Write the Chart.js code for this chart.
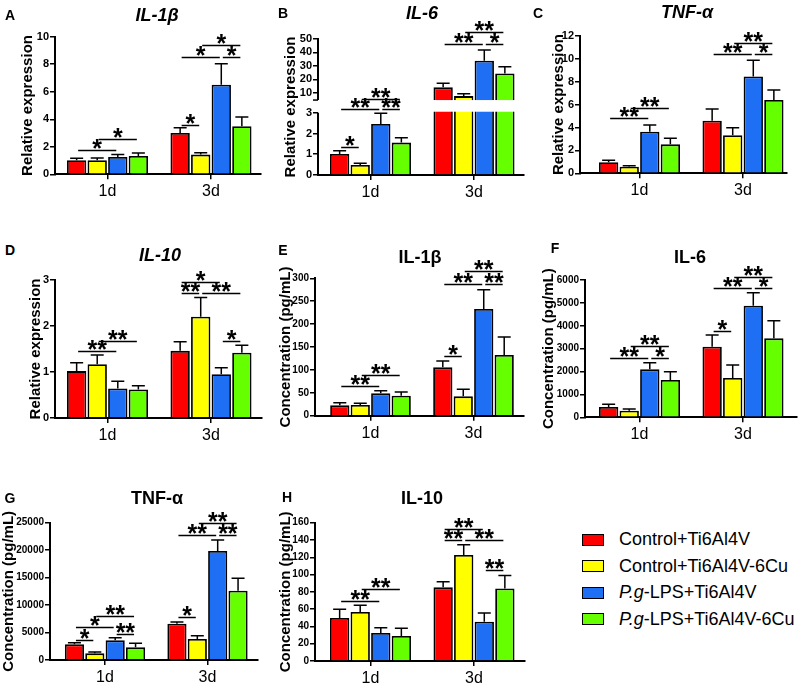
<!DOCTYPE html>
<html>
<head>
<meta charset="utf-8">
<script src="https://cdn.jsdelivr.net/npm/chart.js@4.4.1/dist/chart.umd.min.js"></script>
<style>
  body { margin: 0; background: #fff; width: 800px; height: 689px; position: relative; overflow: hidden;
         font-family: "Liberation Sans", Arial, sans-serif; color: #000; }
  canvas { position: absolute; }
  .lbl { position: absolute; transform: translate(-50%, -50%); font-weight: bold; white-space: nowrap; line-height: 1; }
  .letter { font-size: 14px; }
  .title { font-size: 18px; }
  .leg { position: absolute; left: 582px; height: 20px; white-space: nowrap; font-size: 18px; line-height: 20px; }
  .leg span.box { position: absolute; left: 0; top: 3.5px; width: 20px; height: 10px; border: 1.5px solid #000; }
  .leg span.txt { position: absolute; left: 37px; top: -1px; }
</style>
</head>
<body>
<script>
const days = ['1d', '3d'];
const groups = ['Control+Ti6Al4V', 'Control+Ti6Al4V-6Cu', 'P.g-LPS+Ti6Al4V', 'P.g-LPS+Ti6Al4V-6Cu'];
const colors = ['#ff0000', '#ffff00', '#1f6ff5', '#66ff00'];

// each row is one group: [1d, 3d]; brackets are [day, group a, group b, height, stars]

// A  IL-1β relative expression
const il1bRel = [[1.02, 3.0], [1.02, 1.43], [1.26, 6.51], [1.33, 3.49]];
const il1bRelErr = [[0.14, 0.39], [0.17, 0.14], [0.17, 1.53], [0.22, 0.67]];
const il1bRelSig = [[0, 0, 2, 1.77, '*'], [0, 1, 3, 2.57, '*'], [1, 0, 1, 3.61, '*'], [1, 0, 2, 8.5, '*'], [1, 2, 3, 8.5, '*'], [1, 1, 3, 9.39, '*']];
const il1bRelTicks = [0, 2, 4, 6, 8, 10];

// B  IL-6 relative expression (broken axis)
const il6Rel = [[1.01, 14.0], [0.48, 7.5], [2.46, 33.8], [1.56, 24.3]];
const il6RelErr = [[0.16, 3.0], [0.08, 1.8], [0.51, 8.0], [0.24, 5.0]];
const il6RelSig = [[0, 0, 1, 1.36, '*'], [0, 0, 2, 3.48, '**'], [0, 2, 3, 3.48, '**'], [0, 1, 3, 5.6, '**'], [1, 0, 2, 46, '**'], [1, 2, 3, 46, '*'], [1, 1, 3, 55, '**']];
const il6RelTicks = [0, 1, 2, 3, 10, 20, 30, 40, 50];

// C  TNF-α relative expression
const tnfRel = [[0.96, 4.6], [0.58, 3.32], [3.64, 8.47], [2.53, 6.4]];
const tnfRelErr = [[0.17, 1.02], [0.09, 0.67], [0.58, 1.4], [0.53, 0.88]];
const tnfRelSig = [[0, 0, 2, 4.8, '**'], [0, 1, 3, 5.73, '**'], [1, 0, 2, 10.39, '**'], [1, 2, 3, 10.39, '*'], [1, 1, 3, 11.41, '**']];
const tnfRelTicks = [0, 2, 4, 6, 8, 10, 12];

// D  IL-10 relative expression
const il10Rel = [[1.02, 1.46], [1.17, 2.2], [0.64, 0.95], [0.62, 1.42]];
const il10RelErr = [[0.18, 0.2], [0.2, 0.42], [0.16, 0.14], [0.08, 0.16]];
const il10RelSig = [[0, 0, 2, 1.45, '**'], [0, 1, 3, 1.68, '**'], [1, 0, 1, 2.72, '**'], [1, 1, 3, 2.72, '**'], [1, 0, 2, 2.96, '*'], [1, 2, 3, 1.68, '*']];
const il10RelTicks = [0, 1, 2, 3];

// E  IL-1β concentration (pg/mL)
const il1bConc = [[22.6, 105.6], [23.3, 42.2], [48.8, 233], [43.7, 132.6]];
const il1bConcErr = [[5.8, 13.8], [3.7, 15.3], [5.8, 42], [8, 39.3]];
const il1bConcSig = [[0, 0, 2, 64, '**'], [0, 1, 3, 89.6, '**'], [1, 0, 1, 131, '*'], [1, 0, 2, 287.7, '**'], [1, 2, 3, 287.7, '**'], [1, 1, 3, 315.4, '**']];
const il1bConcTicks = [0, 50, 100, 150, 200, 250, 300];

// F  IL-6 concentration (pg/mL)
const il6Conc = [[451, 3086], [291, 1718], [2096, 4876], [1630, 3450]];
const il6ConcErr = [[117, 509], [73, 567], [291, 568], [364, 771]];
const il6ConcSig = [[0, 0, 2, 2606, '**'], [0, 2, 3, 2606, '*'], [0, 1, 3, 3130, '**'], [1, 0, 1, 3770, '*'], [1, 0, 2, 5633, '**'], [1, 2, 3, 5633, '*'], [1, 1, 3, 6114, '**']];
const il6ConcTicks = [0, 1000, 2000, 3000, 4000, 5000, 6000];

// G  TNF-α concentration (pg/mL)
const tnfConc = [[2852, 6614], [1214, 3823], [3580, 19842], [2306, 12621]];
const tnfConcErr = [[303, 303], [242, 607], [485, 2003], [728, 2245]];
const tnfConcSig = [[0, 0, 1, 3640, '*'], [0, 0, 2, 5947, '*'], [0, 2, 3, 4733, '**'], [0, 1, 3, 8010, '**'], [1, 0, 1, 7767, '*'], [1, 0, 2, 22755, '**'], [1, 2, 3, 22755, '**'], [1, 1, 3, 24879, '**']];
const tnfConcTicks = [0, 5000, 10000, 15000, 20000, 25000];

// H  IL-10 concentration (pg/mL)
const il10Conc = [[49.7, 85.2], [56.7, 122.6], [32.4, 45.5], [28.9, 84]];
const il10ConcErr = [[10.3, 6.5], [7.7, 11.9], [6.2, 10], [8.9, 15]];
const il10ConcSig = [[0, 0, 2, 69, '**'], [0, 1, 3, 83.3, '**'], [1, 0, 1, 140, '**'], [1, 1, 3, 140, '**'], [1, 0, 2, 152.7, '**'], [1, 2, 3, 105.2, '**']];
const il10ConcTicks = [0, 20, 40, 60, 80, 100, 120, 140, 160];

// broken axis of B: 0-3 below the break, 4.54-50 squeezed above it
const brk = [3, 4.54];
function breakScale(v) {
  if (v <= brk[0]) return v;
  if (v <= brk[1]) return brk[0] + (v - brk[0]) * 0.61 / (brk[1] - brk[0]);
  return brk[0] + 0.61 + (v - brk[1]) * 0.0647;
}
const same = v => v;

const REL = 'Relative expression', CONC = 'Concentration (pg/mL)';
const panels = [
  { letter: 'A', title: 'IL-1β', italic: true, yTitle: REL, vals: il1bRel, errs: il1bRelErr, sig: il1bRelSig, ticks: il1bRelTicks, tf: same, tickSize: 11,
    box: { letterAt: [10, 15], titleAt: [157, 15], yTitleX: 28, axisX: 55, top: 36.7, bottom: 174.3, right: 261, c: [107.5, 211], rows: [0, 210] } },
  { letter: 'B', title: 'IL-6', italic: true, yTitle: REL, vals: il6Rel, errs: il6RelErr, sig: il6RelSig, ticks: il6RelTicks, tf: breakScale, broken: true, tickSize: 11,
    box: { letterAt: [283, 13], titleAt: [422, 13], yTitleX: 291, axisX: 318, top: 39, bottom: 175, right: 524, c: [370.5, 474], rows: [0, 210] } },
  { letter: 'C', title: 'TNF-α', italic: true, yTitle: REL, vals: tnfRel, errs: tnfRelErr, sig: tnfRelSig, ticks: tnfRelTicks, tf: same, tickSize: 11,
    box: { letterAt: [538, 13], titleAt: [687, 12], yTitleX: 559, axisX: 580, top: 36, bottom: 173.3, right: 787, c: [639.5, 743], rows: [0, 210] } },
  { letter: 'D', title: 'IL-10', italic: true, yTitle: REL, vals: il10Rel, errs: il10RelErr, sig: il10RelSig, ticks: il10RelTicks, tf: same, tickSize: 11,
    box: { letterAt: [10, 250], titleAt: [160, 255], yTitleX: 36, axisX: 55, top: 280, bottom: 418, right: 262, c: [107.5, 211], rows: [225, 455] } },
  { letter: 'E', title: 'IL-1β', italic: false, yTitle: CONC, vals: il1bConc, errs: il1bConcErr, sig: il1bConcSig, ticks: il1bConcTicks, tf: same, tickSize: 10,
    box: { letterAt: [283, 250], titleAt: [420, 257], yTitleX: 286, axisX: 315, top: 278.3, bottom: 415.7, right: 524, c: [370.5, 473.5], rows: [225, 455] } },
  { letter: 'F', title: 'IL-6', italic: false, yTitle: CONC, vals: il6Conc, errs: il6ConcErr, sig: il6ConcSig, ticks: il6ConcTicks, tf: same, tickSize: 10,
    box: { letterAt: [555, 248], titleAt: [690, 257], yTitleX: 549, axisX: 585, top: 280, bottom: 417.3, right: 797, c: [639.5, 743], rows: [225, 455] } },
  { letter: 'G', title: 'TNF-α', italic: false, yTitle: CONC, vals: tnfConc, errs: tnfConcErr, sig: tnfConcSig, ticks: tnfConcTicks, tf: same, tickSize: 10,
    box: { letterAt: [10, 498], titleAt: [157, 498], yTitleX: 9, axisX: 50, top: 522.7, bottom: 660, right: 258, c: [105, 207.5], rows: [460, 689] } },
  { letter: 'H', title: 'IL-10', italic: false, yTitle: CONC, vals: il10Conc, errs: il10ConcErr, sig: il10ConcSig, ticks: il10ConcTicks, tf: same, tickSize: 10,
    box: { letterAt: [287, 497], titleAt: [422, 498], yTitleX: 286, axisX: 315, top: 522.7, bottom: 661, right: 525, c: [370.5, 474], rows: [460, 689] } }
];

const FONT = '"Liberation Sans", Arial, sans-serif';
const X_HEIGHT = 26;

// error bars, significance brackets and the broken axis of B
const marks = {
  id: 'marks',
  afterDatasetsDraw(chart, args, opts) {
    const p = opts.panel;
    const ctx = chart.ctx, y = chart.scales.y, area = chart.chartArea;
    ctx.save();
    ctx.strokeStyle = '#000';
    if (p.broken) {
      const yLo = y.getPixelForValue(p.tf(brk[0]));
      const yHi = y.getPixelForValue(p.tf(brk[1]));
      ctx.fillStyle = '#fff';
      ctx.fillRect(area.left + 1, yHi, area.right - area.left, yLo - yHi - 1);
      ctx.lineWidth = 2;
      ctx.beginPath();
      ctx.moveTo(area.left, area.bottom + 1); ctx.lineTo(area.left, yLo);
      ctx.moveTo(area.left, yHi); ctx.lineTo(area.left, area.top - 1);
      ctx.stroke();
      ctx.lineWidth = 1.5;
      ctx.beginPath();
      ctx.moveTo(area.left - 5, yHi); ctx.lineTo(area.left, yHi);
      ctx.stroke();
    }
    ctx.lineWidth = 1.5;
    p.vals.forEach((row, i) => {
      const meta = chart.getDatasetMeta(i);
      row.forEach((v, j) => {
        const bar = meta.data[j];
        const yt = y.getPixelForValue(p.tf(v + p.errs[i][j]));
        ctx.beginPath();
        ctx.moveTo(bar.x, bar.y);
        ctx.lineTo(bar.x, yt);
        ctx.moveTo(bar.x - 6.5, yt);
        ctx.lineTo(bar.x + 6.5, yt);
        ctx.stroke();
      });
    });
    ctx.fillStyle = '#000';
    ctx.font = 'bold 25px ' + FONT;
    ctx.textAlign = 'center';
    ctx.textBaseline = 'alphabetic';
    p.sig.forEach(([d, a, b, h, s]) => {
      const x1 = chart.getDatasetMeta(a).data[d].x + 1.5;
      const x2 = chart.getDatasetMeta(b).data[d].x - 1.5;
      const yy = Math.round(y.getPixelForValue(p.tf(h))) + 0.5;
      ctx.beginPath();
      ctx.moveTo(x1, yy);
      ctx.lineTo(x2, yy);
      ctx.stroke();
      ctx.fillText(s, (x1 + x2) / 2, yy + 6);
    });
    ctx.restore();
  }
};

function addLabel(cls, text, at, italic) {
  const el = document.createElement('div');
  el.className = 'lbl ' + cls;
  el.textContent = text;
  el.style.left = at[0] + 'px';
  el.style.top = at[1] + 'px';
  if (italic) el.style.fontStyle = 'italic';
  document.body.appendChild(el);
}

panels.forEach(p => {
  const b = p.box;
  const cl = b.yTitleX - 13;
  const ct = b.rows[0];
  const cw = b.right - cl + 14;
  const ch = b.rows[1] - b.rows[0];
  const unit = b.c[1] - b.c[0];

  const canvas = document.createElement('canvas');
  canvas.width = cw;
  canvas.height = ch;
  canvas.style.left = cl + 'px';
  canvas.style.top = ct + 'px';
  document.body.appendChild(canvas);

  addLabel('letter', p.letter, b.letterAt, false);
  addLabel('title', p.title, b.titleAt, p.italic);

  new Chart(canvas, {
    type: 'bar',
    data: {
      datasets: groups.map((g, i) => ({
        label: g,
        data: days.map((d, j) => ({ x: j, y: p.tf(p.vals[i][j]) })),
        backgroundColor: colors[i],
        borderColor: '#000',
        borderWidth: 1.8,
        barPercentage: 0.94,
        categoryPercentage: 0.795
      }))
    },
    options: {
      responsive: false,
      animation: false,
      devicePixelRatio: 1,
      layout: {
        padding: {
          left: 0,
          top: b.top - ct,
          right: cw - (b.right - cl),
          bottom: ch - (b.bottom - ct) - X_HEIGHT
        }
      },
      plugins: {
        legend: { display: false },
        tooltip: { enabled: false },
        marks: { panel: p }
      },
      scales: {
        x: {
          type: 'linear',
          offset: false,
          min: (b.axisX - b.c[0]) / unit,
          max: (b.right - b.c[0]) / unit,
          afterBuildTicks: s => { s.ticks = days.map((d, j) => ({ value: j })); },
          afterFit: s => { s.height = X_HEIGHT; },
          border: { display: true, color: '#000', width: 2 },
          grid: { display: true, offset: false, drawOnChartArea: false, drawTicks: true, tickLength: 5, color: '#000', lineWidth: 1.5 },
          ticks: {
            autoSkip: false,
            maxRotation: 0,
            padding: 3,
            color: '#000',
            font: { family: FONT, size: 16 },
            callback: (v, i) => days[i]
          }
        },
        y: {
          min: 0,
          max: p.tf(p.ticks[p.ticks.length - 1]),
          afterBuildTicks: s => { s.ticks = p.ticks.map(v => ({ value: p.tf(v) })); },
          afterFit: s => { s.width = b.axisX - cl; },
          border: { display: !p.broken, color: '#000', width: 2 },
          grid: { display: true, drawOnChartArea: false, drawTicks: true, tickLength: 5, color: '#000', lineWidth: 1.5 },
          ticks: {
            padding: 1,
            color: '#000',
            font: { family: FONT, size: p.tickSize, weight: 'bold' },
            callback: (v, i) => String(p.ticks[i])
          },
          title: {
            display: true,
            text: p.yTitle,
            color: '#000',
            padding: { top: 4, bottom: 4 },
            font: { family: FONT, size: 15, weight: 'bold' }
          }
        }
      }
    },
    plugins: [marks]
  });
});

// legend
const legendRows = [540, 566.5, 593, 619.5];
groups.forEach((g, i) => {
  const row = document.createElement('div');
  row.className = 'leg';
  row.style.top = (legendRows[i] - 10) + 'px';
  const box = document.createElement('span');
  box.className = 'box';
  box.style.background = colors[i];
  const txt = document.createElement('span');
  txt.className = 'txt';
  txt.innerHTML = g.replace('P.g', '<i>P.g</i>');
  row.appendChild(box);
  row.appendChild(txt);
  document.body.appendChild(row);
});
</script>
</body>
</html>
